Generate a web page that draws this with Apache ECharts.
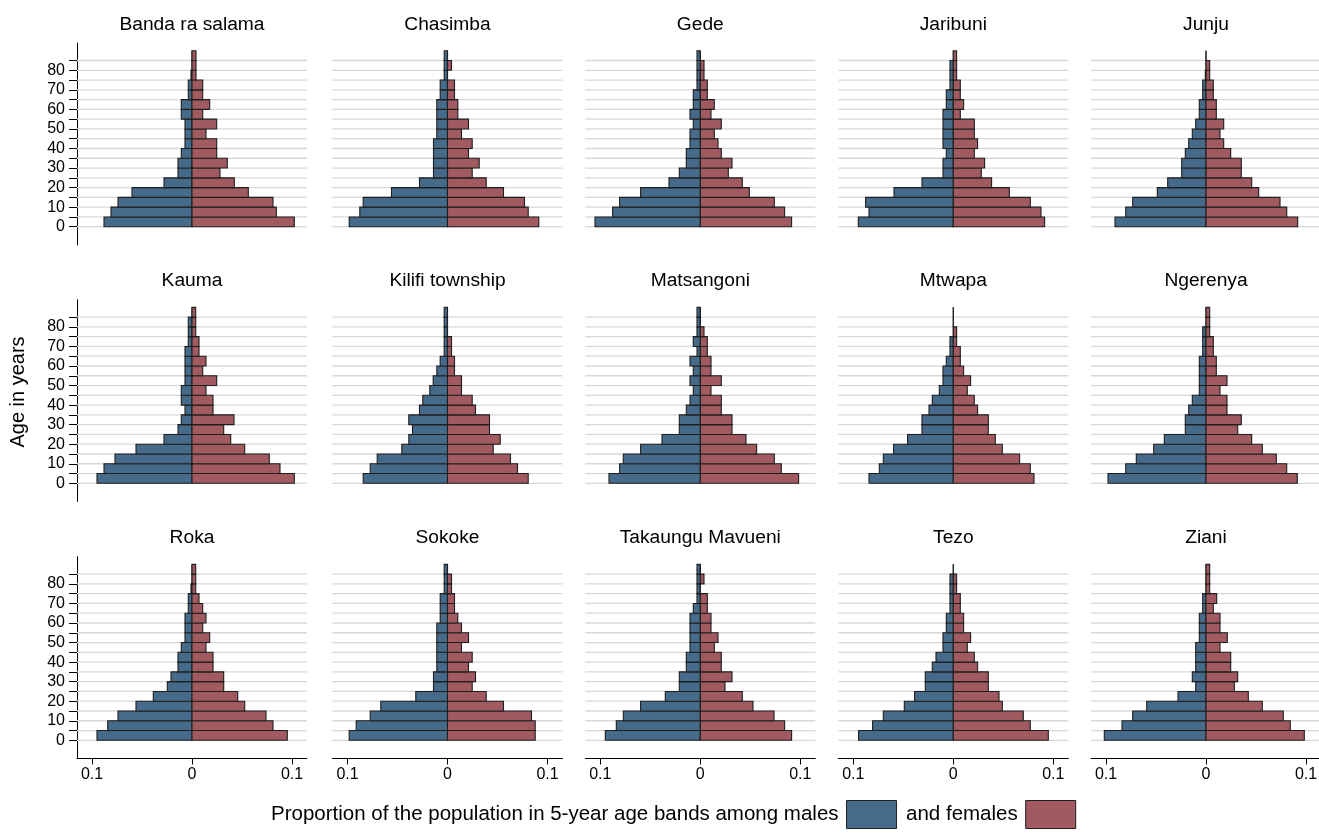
<!DOCTYPE html>
<html>
<head>
<meta charset="utf-8">
<script src="https://cdn.jsdelivr.net/npm/echarts@6/dist/echarts.min.js"></script>
<style>html,body{margin:0;padding:0;background:#fff}#chart{width:1319px;height:836px}</style>
</head>
<body>
<div id="chart"></div>
<script>
// ---- data (age bands 0,5,...,85; proportions) ----
const ageBands = [0,5,10,15,20,25,30,35,40,45,50,55,60,65,70,75,80,85];
const yTickValues = [0,5,10,15,20,25,30,35,40,45,50,55,60,65,70,75,80,85];
const yLabelValues = [0,10,20,30,40,50,60,70,80];
const xTickValues = [-0.1, 0, 0.1];
const villages = ["Banda ra salama","Chasimba","Gede","Jaribuni","Junju",
                  "Kauma","Kilifi township","Matsangoni","Mtwapa","Ngerenya",
                  "Roka","Sokoke","Takaungu Mavueni","Tezo","Ziani"];
const maleLabel = "Proportion of the population in 5-year age bands among males";
const femaleLabel = "and females";

const bandaMale     = [0.088,0.081,0.074,0.060,0.028,0.014,0.014,0.0107,0.007,0.007,0.007,0.0107,0.0107,0.0037,0.0037,0.001,0,0];
const bandaFemale   = [0.1023,0.0843,0.081,0.0563,0.0423,0.028,0.0353,0.0247,0.0247,0.014,0.0247,0.0107,0.0177,0.0107,0.0107,0.004,0.004,0.004];
const chasimbaMale  = [0.0983,0.0877,0.0843,0.056,0.028,0.014,0.014,0.014,0.014,0.0107,0.0107,0.0107,0.0107,0.0073,0.0073,0.0033,0.0033,0.0033];
const chasimbaFemale= [0.0913,0.0807,0.077,0.056,0.0387,0.0247,0.0317,0.021,0.0247,0.014,0.021,0.0103,0.0103,0.007,0.007,0,0.004,0];
const gedeMale      = [0.1053,0.0877,0.0807,0.0597,0.0313,0.021,0.014,0.014,0.0103,0.0103,0.007,0.0103,0.007,0.007,0.0033,0.0033,0.0033,0.0033];
const gedeFemale    = [0.0913,0.0843,0.074,0.049,0.042,0.028,0.0317,0.021,0.0177,0.014,0.021,0.0107,0.014,0.007,0.007,0.0037,0.0037,0];
const jaribuniMale  = [0.095,0.0843,0.0877,0.0593,0.0313,0.0103,0.0103,0.007,0.0103,0.0103,0.0103,0.0103,0.007,0.007,0.0033,0.0033,0.0033,0];
const jaribuniFemale= [0.0913,0.0877,0.077,0.056,0.0383,0.028,0.0313,0.021,0.0243,0.021,0.021,0.007,0.0103,0.007,0.007,0.0033,0.0033,0.0033];
const junjuMale     = [0.091,0.0803,0.0733,0.0487,0.0383,0.0243,0.0243,0.0207,0.0173,0.0137,0.0103,0.0067,0.0067,0.0033,0.0033,0.0007,0,0];
const junjuFemale   = [0.0917,0.0807,0.074,0.0527,0.0457,0.0353,0.0353,0.0247,0.0177,0.014,0.0177,0.0103,0.0103,0.0073,0.0073,0.0037,0.0037,0];
const kaumaMale     = [0.095,0.088,0.077,0.056,0.028,0.014,0.0107,0.007,0.0107,0.0107,0.007,0.007,0.007,0.007,0.0037,0.0037,0.0037,0];
const kaumaFemale   = [0.1023,0.088,0.0773,0.0527,0.0387,0.0317,0.042,0.021,0.021,0.014,0.0247,0.0107,0.014,0.007,0.007,0.0037,0.0037,0.0037];
const kilifiMale    = [0.0843,0.0773,0.0703,0.0457,0.0387,0.035,0.0387,0.028,0.0247,0.0177,0.0143,0.0107,0.0073,0.0033,0.0033,0.0033,0.0033,0.0033];
const kilifiFemale  = [0.0807,0.07,0.063,0.0457,0.0527,0.042,0.042,0.028,0.0247,0.014,0.014,0.007,0.007,0.004,0.004,0,0,0];
const matsangoniMale  = [0.0913,0.0807,0.077,0.0597,0.0383,0.021,0.021,0.014,0.0103,0.007,0.0103,0.007,0.0103,0.0033,0.007,0.0033,0.0033,0.0033];
const matsangoniFemale= [0.0983,0.081,0.074,0.0563,0.0457,0.0317,0.0317,0.021,0.021,0.0107,0.021,0.0107,0.0107,0.007,0.007,0.0037,0,0];
const mtwapaMale    = [0.0843,0.074,0.07,0.0597,0.0457,0.0313,0.0313,0.0243,0.021,0.014,0.0103,0.0103,0.007,0.0033,0.0033,0,0,0];
const mtwapaFemale  = [0.0807,0.077,0.0663,0.049,0.042,0.035,0.035,0.0243,0.021,0.014,0.0173,0.0103,0.007,0.007,0.0033,0.0033,0,0];
const ngerenyaMale  = [0.098,0.0803,0.0697,0.0523,0.0417,0.0207,0.0207,0.0173,0.0137,0.0067,0.0067,0.0067,0.0067,0.0033,0.0033,0.0033,0,0];
const ngerenyaFemale= [0.0913,0.0807,0.0703,0.0563,0.0457,0.0317,0.0353,0.021,0.021,0.014,0.021,0.0103,0.0103,0.0073,0.0073,0.0037,0.0037,0.0037];
const rokaMale      = [0.095,0.0843,0.074,0.056,0.0387,0.0247,0.021,0.014,0.014,0.0107,0.007,0.007,0.007,0.0037,0.0037,0.001,0,0];
const rokaFemale    = [0.0953,0.081,0.074,0.0527,0.0457,0.0317,0.0317,0.021,0.021,0.014,0.0177,0.0107,0.014,0.0107,0.007,0.0037,0.0037,0.0037];
const sokokeMale    = [0.0983,0.0913,0.0773,0.0667,0.0317,0.014,0.014,0.0107,0.0107,0.0107,0.0107,0.0107,0.0073,0.0073,0.0073,0.0033,0.0033,0.0033];
const sokokeFemale  = [0.0877,0.0877,0.084,0.056,0.0387,0.0247,0.028,0.021,0.0247,0.014,0.021,0.014,0.0103,0.007,0.007,0.004,0.004,0];
const takaunguMale  = [0.095,0.084,0.077,0.0597,0.035,0.021,0.021,0.014,0.014,0.0103,0.0103,0.0103,0.0103,0.007,0.0033,0.0033,0.0033,0.0033];
const takaunguFemale= [0.0913,0.0843,0.0737,0.0527,0.042,0.0247,0.0317,0.021,0.021,0.014,0.0177,0.0107,0.0107,0.007,0.007,0,0.0037,0];
const tezoMale      = [0.0947,0.0807,0.07,0.049,0.0387,0.028,0.028,0.021,0.0173,0.0103,0.0103,0.007,0.007,0.0033,0.0033,0.0033,0.0033,0];
const tezoFemale    = [0.095,0.077,0.07,0.049,0.0457,0.035,0.035,0.0243,0.021,0.014,0.0173,0.0103,0.0103,0.007,0.007,0.0033,0.0033,0];
const zianiMale     = [0.1017,0.084,0.0733,0.0593,0.028,0.0103,0.0137,0.0103,0.0103,0.0103,0.0067,0.0067,0.0067,0.0033,0.0033,0,0,0];
const zianiFemale   = [0.0983,0.0843,0.0773,0.0563,0.0423,0.0283,0.0317,0.0247,0.0247,0.014,0.0213,0.014,0.014,0.0073,0.0107,0.0037,0.0037,0.0037];

const maleSets = [bandaMale,chasimbaMale,gedeMale,jaribuniMale,junjuMale,kaumaMale,kilifiMale,matsangoniMale,mtwapaMale,ngerenyaMale,rokaMale,sokokeMale,takaunguMale,tezoMale,zianiMale];
const femaleSets = [bandaFemale,chasimbaFemale,gedeFemale,jaribuniFemale,junjuFemale,kaumaFemale,kilifiFemale,matsangoniFemale,mtwapaFemale,ngerenyaFemale,rokaFemale,sokokeFemale,takaunguFemale,tezoFemale,zianiFemale];

// ---- layout / style ----
const FONT = "'Liberation Sans', Arial, Helvetica, sans-serif";
const BAND = 5;
const MALE_COLOR = '#466a89';
const FEMALE_COLOR = '#a05a60';
const EDGE = '#1e1e1e';
const colCenters = [192, 447.5, 700.3, 953.3, 1206];
const rowTops = [43.1, 299.7, 556.7];
const GRID_W = 230, GRID_H = 201.8;
const X_MIN = -0.115, X_MAX = 0.115, Y_MIN = -9.3, Y_MAX = 93.9;

function barRender(params, api) {
  const v = api.value(0), a = api.value(1);
  const p0 = api.coord([v, a + BAND]);
  const p1 = api.coord([0, a]);
  const x = Math.min(p0[0], p1[0]), w = Math.abs(p1[0] - p0[0]);
  const y = Math.min(p0[1], p1[1]), h = Math.abs(p1[1] - p0[1]);
  if (w < 0.6) {
    return {type: 'line', shape: {x1: p1[0], y1: p0[1], x2: p1[0], y2: p1[1]},
            style: {stroke: EDGE, lineWidth: 1.1}};
  }
  return {type: 'rect', shape: {x: x, y: y, width: w, height: h},
          style: {fill: api.visual('color'), stroke: EDGE, lineWidth: 1.1}};
}
function gridLineRender(params, api) {
  const cs = params.coordSys;
  const y = api.coord([0, api.value(1)])[1];
  return {type: 'line', shape: {x1: cs.x, y1: y, x2: cs.x + cs.width, y2: y},
          style: {stroke: '#d8d8d8', lineWidth: 1.3}, silent: true};
}

const grids = [], xAxes = [], yAxes = [], series = [], graphics = [];
villages.forEach((name, i) => {
  const r = Math.floor(i / 5), c = i % 5;
  grids.push({left: colCenters[c] - GRID_W / 2, top: rowTops[r], width: GRID_W, height: GRID_H,
              containLabel: false, outerBoundsMode: 'none'});
  xAxes.push({
    type: 'value', gridIndex: i, min: X_MIN, max: X_MAX, show: r === 2,
    axisLine: {show: true, onZero: false, lineStyle: {color: '#000', width: 1}},
    axisTick: {show: true, customValues: xTickValues, length: 6, lineStyle: {color: '#000'}},
    axisLabel: {show: true, customValues: xTickValues, margin: 8, fontSize: 16, color: '#000', fontFamily: FONT,
                formatter: v => String(Math.round(Math.abs(v) * 10) / 10)},
    splitLine: {show: false}
  });
  yAxes.push({
    type: 'value', gridIndex: i, min: Y_MIN, max: Y_MAX, show: c === 0,
    axisLine: {show: true, onZero: false, lineStyle: {color: '#000', width: 1}},
    axisTick: {show: true, customValues: yTickValues, length: 8, lineStyle: {color: '#000'}},
    axisLabel: {show: true, customValues: yLabelValues, margin: 12, fontSize: 16, color: '#000', fontFamily: FONT},
    splitLine: {show: false}
  });
  series.push({
    type: 'custom', xAxisIndex: i, yAxisIndex: i, z: 1, silent: true,
    encode: {x: 0, y: 1}, renderItem: gridLineRender,
    data: yTickValues.map(t => [0, t])
  });
  series.push({
    type: 'custom', name: maleLabel, xAxisIndex: i, yAxisIndex: i, z: 2,
    itemStyle: {color: MALE_COLOR}, encode: {x: 0, y: 1}, renderItem: barRender,
    data: ageBands.map((a, k) => [-maleSets[i][k], a])
  });
  series.push({
    type: 'custom', name: femaleLabel, xAxisIndex: i, yAxisIndex: i, z: 2,
    itemStyle: {color: FEMALE_COLOR}, encode: {x: 0, y: 1}, renderItem: barRender,
    data: ageBands.map((a, k) => [femaleSets[i][k], a])
  });
  graphics.push({
    type: 'text', x: colCenters[c], y: rowTops[r] - 18.5,
    style: {text: name, fill: '#000', font: "19.2px " + FONT, align: 'center', verticalAlign: 'middle'}
  });
});
graphics.push({
  type: 'text', x: 18, y: 392, rotation: Math.PI / 2,
  style: {text: 'Age in years', fill: '#000', font: "20px " + FONT, align: 'center', verticalAlign: 'middle'}
});

const chart = echarts.init(document.getElementById('chart'), null, {renderer: 'canvas'});
chart.setOption({
  animation: false,
  backgroundColor: '#fff',
  grid: grids, xAxis: xAxes, yAxis: yAxes, series: series,
  graphic: graphics,
  legend: {
    left: 266, top: 795, align: 'right', icon: 'rect', itemWidth: 50, itemHeight: 28, itemGap: 9,
    selectedMode: false,
    textStyle: {fontSize: 20.5, color: '#000', fontFamily: FONT, padding: [0, 3, 0, 0]},
    data: [
      {name: maleLabel, itemStyle: {color: MALE_COLOR, borderColor: EDGE, borderWidth: 1}},
      {name: femaleLabel, itemStyle: {color: FEMALE_COLOR, borderColor: EDGE, borderWidth: 1}}
    ]
  }
});
</script>
</body>
</html>
